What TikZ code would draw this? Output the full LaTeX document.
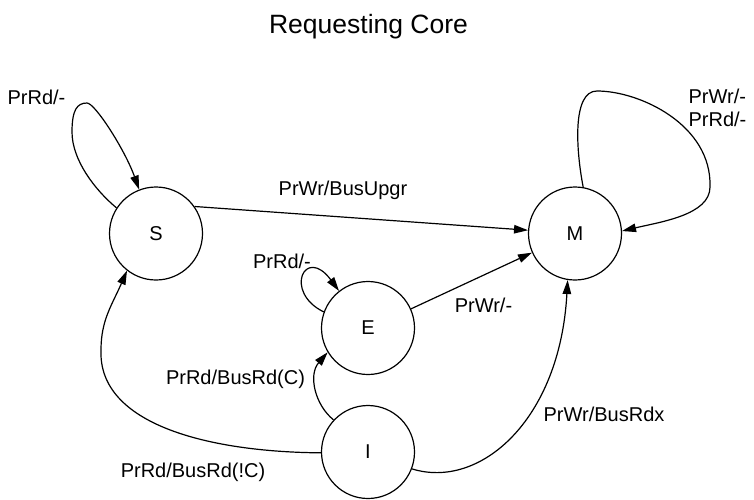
\documentclass[tikz,border=0pt]{standalone}
\usepackage{fontspec}
\setmainfont{Liberation Sans}
\usetikzlibrary{arrows.meta}
\begin{document}
\begin{tikzpicture}[x=1pt,y=-1pt, line width=1.2pt,
  state/.style={circle,draw,minimum size=93pt,inner sep=0pt,font=\fontsize{20}{24}\selectfont},
  lbl/.style={font=\fontsize{20}{24}\selectfont, inner sep=0pt, anchor=base},
  arr/.style={-{Triangle[length=14pt,width=8.5pt]}}]
\useasboundingbox (0,0) rectangle (754,499);
\node[anchor=base, inner sep=0pt, font=\fontsize{26.5}{30}\selectfont] (title) at (368.5,33) {Requesting Core};
\node[state] (S) at (156,233.5) {S};
\node[state] (M) at (575,233.5) {M};
\node[state] (E) at (368,328) {E};
\node[state] (I) at (368,452) {I};
% edges
\draw[arr] (S.147) .. controls (95,190) and (72,160) .. (72,132) .. controls (72,110) and (77,103) .. (87,103) .. controls (95,103) and (125,150) .. (S.111);
\draw[arr] (S.35) -- (M.176);
\draw[arr] (E.24) -- (M.204);
\draw[arr] (E.160) .. controls (283,292) and (305,245) .. (E.128);
\draw[arr] (I.137) .. controls (315,405) and (308,375) .. (E.211);
\draw[arr] (I.181) .. controls (210,452) and (98,425) .. (101,350) .. controls (101,320) and (112,305) .. (S.232);
\draw[arr] (I.-21) .. controls (480,490) and (560,420) .. (M.261);
\draw[arr] (M.80) .. controls (576,150) and (572,91) .. (597,91) .. controls (640,91) and (712,125) .. (710,187) .. controls (710,215) and (660,222) .. (M.3);
% labels
\node[lbl] (lS) at (36.5,104) {PrRd/-};
\node[lbl] (lSM) at (343,195) {PrWr/BusUpgr};
\node[lbl] (lE) at (282,268) {PrRd/-};
\node[lbl] (lEM) at (483.5,312) {PrWr/-};
\node[lbl] (lIE) at (235.5,384) {PrRd/BusRd(C)};
\node[lbl] (lIS) at (193,477) {PrRd/BusRd(!C)};
\node[lbl] (lIM) at (604,421.5) {PrWr/BusRdx};
\node[lbl, anchor=base west] (lM1) at (688,103.3) {PrWr/-};
\node[lbl, anchor=base west] (lM2) at (688,126.7) {PrRd/-};
\end{tikzpicture}
\end{document}
